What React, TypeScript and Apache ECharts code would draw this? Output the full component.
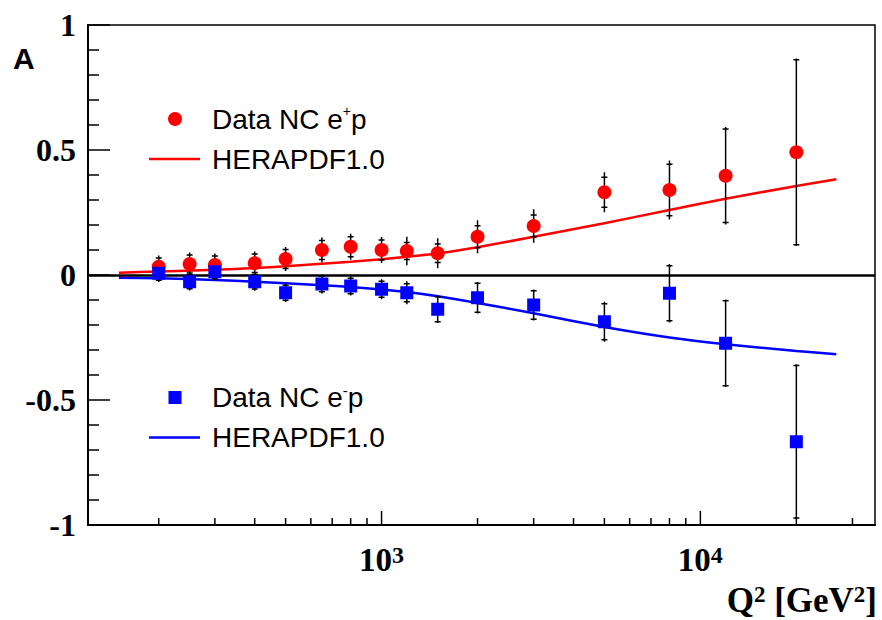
import React, { useEffect, useRef } from 'react';
import * as echarts from 'echarts';

// Measured points (Q^2 in GeV^2)
const Q2 = [200, 250, 300, 400, 500, 650, 800, 1000, 1200, 1500, 2000, 3000, 5000, 8000, 12000, 20000];

// e+p data
const epA = [0.033, 0.044, 0.04, 0.047, 0.064, 0.1, 0.113, 0.1, 0.096, 0.087, 0.153, 0.196, 0.331, 0.34, 0.397, 0.491];
const epStat = [0.035, 0.036, 0.036, 0.037, 0.038, 0.038, 0.04, 0.04, 0.034, 0.037, 0.044, 0.044, 0.06, 0.103, 0.187, 0.37];
const epTot = [0.045, 0.046, 0.046, 0.047, 0.048, 0.05, 0.052, 0.052, 0.057, 0.06, 0.066, 0.067, 0.08, 0.118, 0.195, 0.375];

// e-p data
const emA = [0.007, -0.027, 0.013, -0.027, -0.071, -0.036, -0.044, -0.057, -0.071, -0.137, -0.091, -0.12, -0.187, -0.073, -0.273, -0.667];
const emStat = [0.028, 0.028, 0.028, 0.029, 0.03, 0.031, 0.031, 0.032, 0.036, 0.05, 0.058, 0.057, 0.072, 0.11, 0.17, 0.305];
const emTot = [0.035, 0.035, 0.035, 0.036, 0.037, 0.038, 0.038, 0.04, 0.046, 0.055, 0.063, 0.062, 0.08, 0.117, 0.175, 0.31];

// HERAPDF1.0 predictions
const curveQ2 = [150, 200, 300, 400, 500, 650, 800, 1000, 1200, 1500, 2000, 3000, 5000, 8000, 12000, 20000, 26700];
const herEp = [0.009, 0.014, 0.021, 0.028, 0.035, 0.045, 0.053, 0.063, 0.073, 0.086, 0.111, 0.153, 0.207, 0.26, 0.305, 0.356, 0.383];
const herEm = [-0.011, -0.013, -0.02, -0.027, -0.033, -0.041, -0.048, -0.058, -0.068, -0.085, -0.112, -0.153, -0.208, -0.25, -0.277, -0.304, -0.317];

// Axis ticks
const xMinorTicks = [200, 300, 400, 500, 600, 700, 800, 900, 2000, 3000, 4000, 5000, 6000, 7000, 8000, 9000, 20000, 30000];
const xMajorTicks = [1000, 10000];
const yTicks = [-1, -0.5, 0, 0.5, 1];

// Legend texts
const legendEp = ['Data NC e', '+', 'p'];
const legendEm = ['Data NC e', '-', 'p'];
const legendModel = 'HERAPDF1.0';

const SERIF = '"Liberation Serif", "DejaVu Serif", serif';
const SANS = '"Liberation Sans", Arial, sans-serif';
const RED = '#ff0000';
const BLUE = '#0000ff';

export default function App() {
  const ref = useRef<HTMLDivElement>(null);

  useEffect(() => {
    document.body.style.margin = '0';
    const chart = echarts.init(ref.current!, null, { renderer: 'svg' });

    const errData = (a: number[], s: number[], t: number[]) => Q2.map((q, i) => [q, a[i], s[i], t[i]]);

    const renderErr = (_params: any, api: any) => {
      const x = api.value(0);
      const y = api.value(1);
      const s = api.value(2);
      const t = api.value(3);
      const lo = api.coord([x, y - t]);
      const hi = api.coord([x, y + t]);
      const sl = api.coord([x, y - s]);
      const sh = api.coord([x, y + s]);
      const st = { stroke: '#000', lineWidth: 1.5 };
      return {
        type: 'group',
        children: [
          { type: 'line', shape: { x1: lo[0], y1: lo[1], x2: hi[0], y2: hi[1] }, style: st },
          { type: 'line', shape: { x1: sl[0] - 3, y1: sl[1], x2: sl[0] + 3, y2: sl[1] }, style: st },
          { type: 'line', shape: { x1: sh[0] - 3, y1: sh[1], x2: sh[0] + 3, y2: sh[1] }, style: st },
        ],
      };
    };

    const tickData = [
      ...xMinorTicks.map((v) => [v, yTicks[0], 7]),
      ...xMajorTicks.map((v) => [v, yTicks[0], 14]),
    ];

    const renderTick = (_params: any, api: any) => {
      const p = api.coord([api.value(0), api.value(1)]);
      const len = api.value(2);
      return {
        type: 'line',
        shape: { x1: p[0], y1: p[1], x2: p[0], y2: p[1] - len },
        style: { stroke: '#000', lineWidth: 1.5 },
      };
    };

    const legRich = {
      m: { fontFamily: SANS, fontSize: 28, lineHeight: 30, fill: '#000' },
      p: { fontFamily: SANS, fontSize: 14, lineHeight: 26, verticalAlign: 'top', fill: '#000' },
      n: { fontFamily: SANS, fontSize: 15, lineHeight: 11, verticalAlign: 'top', fill: '#000' },
    };
    const legText = (parts: string[], y: number, supKey: string) => ({
      type: 'text',
      style: {
        x: 212,
        y,
        text: parts.length === 3 ? `{m|${parts[0]}}{${supKey}|${parts[1]}}{m|${parts[2]}}` : `{m|${parts[0]}}`,
        verticalAlign: 'middle',
        align: 'left',
        rich: legRich,
        fill: '#000',
      },
      z: 10,
    });

    chart.setOption({
      animation: false,
      backgroundColor: '#fff',
      grid: {
        left: 88,
        top: 25,
        width: 787,
        height: 500,
        show: true,
        borderColor: '#000',
        borderWidth: 1.5,
        backgroundColor: 'transparent',
      },
      xAxis: {
        type: 'log',
        logBase: 10,
        min: 120,
        max: 35300,
        axisLine: { onZero: false, lineStyle: { color: '#000', width: 2 } },
        axisTick: { show: false },
        minorTick: { show: false },
        splitLine: { show: false },
        axisLabel: {
          margin: 18,
          color: '#000',
          formatter: (v: number) => {
            const l = Math.log10(v);
            const r = Math.round(l);
            if (Math.abs(l - r) < 1e-6 && xMajorTicks.indexOf(Math.pow(10, r)) >= 0) {
              return `{b|10}{s|${r}}`;
            }
            return '';
          },
          rich: {
            b: { fontFamily: SERIF, fontWeight: 'bold', fontSize: 33, lineHeight: 33, color: '#000' },
            s: { fontFamily: SERIF, fontWeight: 'bold', fontSize: 24, lineHeight: 16, verticalAlign: 'top', color: '#000' },
          },
        },
      },
      yAxis: {
        type: 'value',
        min: yTicks[0],
        max: yTicks[yTicks.length - 1],
        interval: 0.5,
        axisLine: { onZero: false, lineStyle: { color: '#000', width: 2 } },
        axisTick: { inside: true, length: 22, lineStyle: { color: '#000', width: 1.5 } },
        minorTick: { show: true, splitNumber: 5, length: 11, lineStyle: { color: '#000', width: 1.5 } },
        splitLine: { show: false },
        axisLabel: {
          color: '#000',
          fontFamily: SERIF,
          fontWeight: 'bold',
          fontSize: 32,
          margin: 12,
        },
      },
      graphic: [
        {
          type: 'text',
          left: 13,
          top: 43,
          style: { text: 'A', fill: '#000', font: `bold 30px ${SANS}` },
        },
        {
          type: 'text',
          right: 5,
          top: 583,
          style: {
            text: '{m|Q}{s|2}{m| [GeV}{s|2}{m|]}',
            fill: '#000',
            rich: {
              m: { fontFamily: SERIF, fontWeight: 'bold', fontSize: 35, lineHeight: 35, fill: '#000' },
              s: { fontFamily: SERIF, fontWeight: 'bold', fontSize: 23, lineHeight: 17, verticalAlign: 'top', fill: '#000' },
            },
          },
        },
        // legend: e+p
        { type: 'circle', shape: { cx: 175, cy: 119, r: 7 }, style: { fill: RED }, z: 10 },
        legText(legendEp, 119, 'p'),
        { type: 'line', shape: { x1: 149, y1: 159, x2: 200, y2: 159 }, style: { stroke: RED, lineWidth: 2.5 }, z: 10 },
        legText([legendModel], 159, 'p'),
        // legend: e-p
        { type: 'rect', shape: { x: 168.5, y: 391, width: 13, height: 13 }, style: { fill: BLUE }, z: 10 },
        legText(legendEm, 397.5, 'n'),
        { type: 'line', shape: { x1: 149, y1: 437.5, x2: 200, y2: 437.5 }, style: { stroke: BLUE, lineWidth: 2.5 }, z: 10 },
        legText([legendModel], 437.5, 'n'),
      ],
      series: [
        {
          type: 'custom',
          name: 'ticks',
          renderItem: renderTick,
          data: tickData,
          silent: true,
          clip: false,
          z: 6,
        },
        {
          type: 'line',
          name: 'HERAPDF1.0 e+p',
          data: curveQ2.map((q, i) => [q, herEp[i]]),
          showSymbol: false,
          symbol: 'none',
          smooth: 0.2,
          color: RED,
          lineStyle: { color: RED, width: 2.5 },
          z: 3,
          markLine: {
            silent: true,
            symbol: ['none', 'none'],
            label: { show: false },
            lineStyle: { color: '#000', width: 2.5, type: 'solid' },
            data: [{ yAxis: 0 }],
          },
        },
        {
          type: 'line',
          name: 'HERAPDF1.0 e-p',
          data: curveQ2.map((q, i) => [q, herEm[i]]),
          showSymbol: false,
          symbol: 'none',
          smooth: 0.2,
          color: BLUE,
          lineStyle: { color: BLUE, width: 2.5 },
          z: 3,
        },
        {
          type: 'custom',
          name: 'err e+p',
          renderItem: renderErr,
          data: errData(epA, epStat, epTot),
          silent: true,
          z: 4,
        },
        {
          type: 'custom',
          name: 'err e-p',
          renderItem: renderErr,
          data: errData(emA, emStat, emTot),
          silent: true,
          z: 4,
        },
        {
          type: 'scatter',
          name: 'Data NC e+p',
          data: Q2.map((q, i) => [q, epA[i]]),
          symbol: 'circle',
          symbolSize: 14,
          itemStyle: { color: RED, opacity: 1 },
          z: 5,
        },
        {
          type: 'scatter',
          name: 'Data NC e-p',
          data: Q2.map((q, i) => [q, emA[i]]),
          symbol: 'rect',
          symbolSize: 13,
          itemStyle: { color: BLUE, opacity: 1 },
          z: 5,
        },
      ],
    });

    return () => {
      chart.dispose();
    };
  }, []);

  return <div ref={ref} style={{ position: 'absolute', left: 0, top: 0, width: 882, height: 620 }} />;
}
